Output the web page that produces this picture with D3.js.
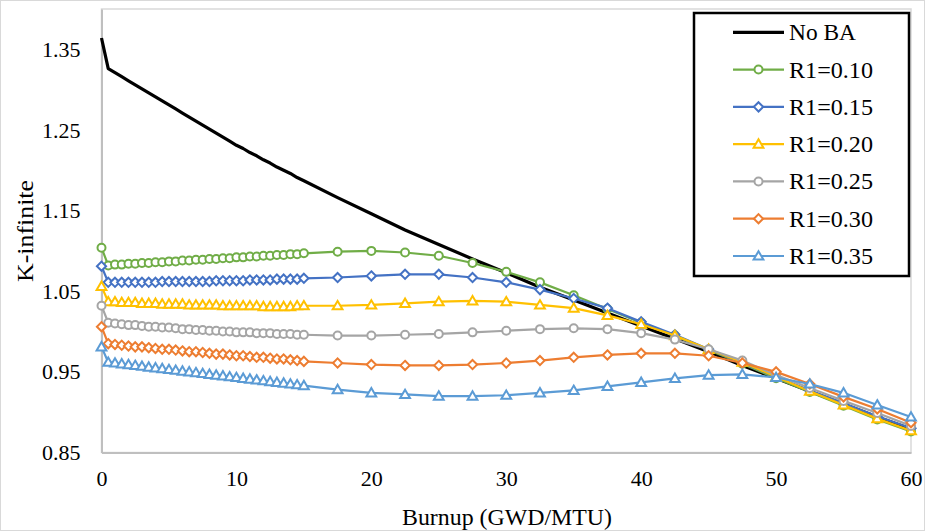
<!DOCTYPE html>
<html>
<head>
<meta charset="utf-8">
<script src="https://cdn.jsdelivr.net/npm/d3@7"></script>
<style>
  html, body { margin: 0; padding: 0; background: #fff; }
</style>
</head>
<body>
<svg id="chart" width="925" height="531"></svg>
<script>
// ---- data ----
const burnup = [0, 0.5, 1, 1.5, 2, 2.5, 3, 3.5, 4, 4.5, 5, 5.5, 6, 6.5, 7, 7.5, 8, 8.5, 9, 9.5, 10,
  10.5, 11, 11.5, 12, 12.5, 13, 13.5, 14, 14.5, 15,
  17.5, 20, 22.5, 25, 27.5, 30, 32.5, 35, 37.5, 40, 42.5, 45, 47.5, 50, 52.5, 55, 57.5, 60];

const noBA = [1.364, 1.326, 1.321, 1.316, 1.311, 1.306, 1.301, 1.296, 1.291, 1.286, 1.281, 1.276, 1.271, 1.266, 1.261, 1.256,
  1.251, 1.246, 1.241, 1.236, 1.231, 1.227, 1.222, 1.218, 1.213, 1.209, 1.204, 1.200, 1.196, 1.191, 1.187,
  1.166, 1.146, 1.126, 1.108, 1.090, 1.073, 1.055, 1.039, 1.023, 1.007, 0.991, 0.975, 0.958, 0.942, 0.926, 0.910, 0.894, 0.879];

const r010 = [1.104, 1.082, 1.083, 1.083, 1.084, 1.084, 1.085, 1.085, 1.086, 1.086, 1.087, 1.087, 1.088, 1.088, 1.089, 1.089,
  1.090, 1.090, 1.091, 1.091, 1.092, 1.092, 1.093, 1.093, 1.094, 1.094, 1.095, 1.095, 1.096, 1.096, 1.097,
  1.099, 1.100, 1.098, 1.094, 1.085, 1.074, 1.061, 1.045, 1.028, 1.011, 0.995, 0.977, 0.960, 0.942, 0.925, 0.908, 0.891, 0.876];

const r015 = [1.081, 1.061, 1.061, 1.061, 1.061, 1.061, 1.061, 1.061, 1.061, 1.062, 1.062, 1.062, 1.062, 1.062, 1.062, 1.062,
  1.062, 1.063, 1.063, 1.063, 1.063, 1.063, 1.064, 1.064, 1.064, 1.064, 1.065, 1.065, 1.065, 1.065, 1.066,
  1.067, 1.069, 1.071, 1.071, 1.067, 1.061, 1.052, 1.041, 1.029, 1.012, 0.996, 0.978, 0.961, 0.944, 0.927, 0.911, 0.895, 0.880];

const r020 = [1.056, 1.037, 1.037, 1.036, 1.036, 1.036, 1.035, 1.035, 1.035, 1.034, 1.034, 1.034, 1.034, 1.033, 1.033, 1.033,
  1.033, 1.033, 1.032, 1.032, 1.032, 1.032, 1.032, 1.032, 1.031, 1.031, 1.031, 1.031, 1.031, 1.032, 1.032,
  1.032, 1.033, 1.035, 1.037, 1.038, 1.037, 1.033, 1.029, 1.020, 1.009, 0.995, 0.978, 0.962, 0.944, 0.926, 0.909, 0.892, 0.877];

const r025 = [1.032, 1.011, 1.010, 1.009, 1.008, 1.008, 1.007, 1.006, 1.006, 1.005, 1.005, 1.004, 1.003, 1.003, 1.002, 1.002,
  1.001, 1.001, 1.000, 1.000, 0.999, 0.999, 0.999, 0.998, 0.998, 0.998, 0.997, 0.997, 0.997, 0.996, 0.996,
  0.995, 0.995, 0.996, 0.997, 0.999, 1.001, 1.003, 1.004, 1.003, 0.998, 0.990, 0.978, 0.964, 0.946, 0.930, 0.914, 0.899, 0.883];

const r030 = [1.006, 0.985, 0.984, 0.983, 0.982, 0.981, 0.981, 0.980, 0.979, 0.978, 0.978, 0.977, 0.976, 0.975, 0.975, 0.974,
  0.973, 0.972, 0.972, 0.971, 0.970, 0.970, 0.969, 0.968, 0.968, 0.967, 0.966, 0.966, 0.965, 0.964, 0.963,
  0.961, 0.959, 0.958, 0.958, 0.959, 0.961, 0.964, 0.968, 0.971, 0.973, 0.973, 0.970, 0.961, 0.950, 0.935, 0.919, 0.904, 0.887];

const r035 = [0.981, 0.962, 0.961, 0.960, 0.959, 0.958, 0.957, 0.956, 0.955, 0.954, 0.953, 0.952, 0.951, 0.950, 0.949, 0.948,
  0.947, 0.946, 0.945, 0.944, 0.943, 0.942, 0.941, 0.940, 0.939, 0.938, 0.937, 0.936, 0.935, 0.934, 0.933,
  0.928, 0.924, 0.922, 0.920, 0.920, 0.921, 0.924, 0.927, 0.932, 0.937, 0.942, 0.946, 0.947, 0.943, 0.935, 0.924, 0.909, 0.894];

const seriesNames = ["No BA", "R1=0.10", "R1=0.15", "R1=0.20", "R1=0.25", "R1=0.30", "R1=0.35"];
const seriesValues = [noBA, r010, r015, r020, r025, r030, r035];
const seriesColors = ["#000000", "#70AD47", "#4472C4", "#FFC000", "#A5A5A5", "#ED7D31", "#5B9BD5"];
const seriesMarkers = ["none", "circle", "diamond", "triangle", "circle", "diamond", "triangle"];

const xTicks = [0, 10, 20, 30, 40, 50, 60];
const yTicks = [0.85, 0.95, 1.05, 1.15, 1.25, 1.35];

// ---- layout ----
const FONT = "'Liberation Serif', Tinos, 'Times New Roman', 'DejaVu Serif', serif";
const svg = d3.select("#chart");
const W = 925, H = 531;
const plot = { left: 101.5, right: 911, top: 9, bottom: 452.5 };

const x = d3.scaleLinear().domain([0, 60]).range([plot.left, plot.right]);
const y = d3.scaleLinear().domain([0.85, 1.40]).range([plot.bottom, plot.top]);

svg.append("rect").attr("x", 0).attr("y", 0).attr("width", W).attr("height", H).attr("fill", "#fff");
svg.append("rect").attr("x", 0.5).attr("y", 0.5).attr("width", W - 1).attr("height", H - 1)
  .attr("fill", "none").attr("stroke", "#D9D9D9").attr("stroke-width", 1);

// plot area border (light)
svg.append("rect").attr("x", plot.left).attr("y", plot.top)
  .attr("width", plot.right - plot.left).attr("height", plot.bottom - plot.top)
  .attr("fill", "none").attr("stroke", "#D9D9D9").attr("stroke-width", 1.5);

// axes
const xAxis = d3.axisBottom(x).tickValues(xTicks).tickSize(0).tickPadding(18).tickFormat(d3.format("d"));
const gx = svg.append("g").attr("transform", `translate(0,${plot.bottom})`).call(xAxis);
gx.attr("font-family", null).attr("font-size", null);
gx.select(".domain").attr("stroke", "#BFBFBF").attr("stroke-width", 2);
gx.selectAll("text").style("font-family", FONT).style("font-size", "22px").attr("fill", "#000");

const yAxis = d3.axisLeft(y).tickValues(yTicks).tickSize(0).tickPadding(21).tickFormat(d3.format(".2f"));
const gy = svg.append("g").attr("transform", `translate(${plot.left},0)`).call(yAxis);
gy.attr("font-family", null).attr("font-size", null);
gy.select(".domain").attr("stroke", "#BFBFBF").attr("stroke-width", 2);
gy.selectAll("text").style("font-family", FONT).style("font-size", "22px").attr("fill", "#000");

// axis titles
svg.append("text").attr("x", 507).attr("y", 525).attr("text-anchor", "middle")
  .attr("textLength", 210).attr("lengthAdjust", "spacingAndGlyphs")
  .style("font-family", FONT).style("font-size", "23px").text("Burnup (GWD/MTU)");
svg.append("text").attr("transform", "translate(33,231) rotate(-90)").attr("text-anchor", "middle")
  .attr("textLength", 102).attr("lengthAdjust", "spacingAndGlyphs")
  .style("font-family", FONT).style("font-size", "23px").text("K-infinite");

// markers
function markerPath(type) {
  if (type === "circle") return d3.symbol().type(d3.symbolCircle).size(Math.PI * 4 * 4)();
  if (type === "diamond") return "M0,-4.6L4.6,0L0,4.6L-4.6,0Z";
  if (type === "triangle") return "M0,-4.8L4.9,3.6L-4.9,3.6Z";
  return null;
}

const line = d3.line().x(d => x(d[0])).y(d => y(d[1]));

seriesValues.forEach((vals, i) => {
  const pts = burnup.map((b, j) => [b, vals[j]]);
  const g = svg.append("g");
  g.append("path").datum(pts).attr("d", line)
    .attr("fill", "none").attr("stroke", seriesColors[i])
    .attr("stroke-width", i === 0 ? 3.2 : 2.2)
    .attr("stroke-linejoin", "round");
  if (seriesMarkers[i] !== "none") {
    g.selectAll("path.m").data(pts).enter().append("path").attr("class", "m")
      .attr("d", markerPath(seriesMarkers[i]))
      .attr("transform", d => `translate(${x(d[0])},${y(d[1])})`)
      .attr("fill", "#fff").attr("stroke", seriesColors[i]).attr("stroke-width", 2);
  }
});

// legend
const lg = svg.append("g");
lg.append("rect").attr("x", 694).attr("y", 13).attr("width", 215).attr("height", 263)
  .attr("fill", "#fff").attr("stroke", "#000").attr("stroke-width", 2.5);
const rowY = d3.scalePoint().domain(seriesNames).range([32.3, 256]);
seriesNames.forEach((name, i) => {
  const cy = rowY(name);
  lg.append("line").attr("x1", 733).attr("x2", 784).attr("y1", cy).attr("y2", cy)
    .attr("stroke", seriesColors[i]).attr("stroke-width", i === 0 ? 3.2 : 2.2);
  if (seriesMarkers[i] !== "none") {
    lg.append("path").attr("d", markerPath(seriesMarkers[i]))
      .attr("transform", `translate(758.5,${cy})`)
      .attr("fill", "#fff").attr("stroke", seriesColors[i]).attr("stroke-width", 2);
  }
  lg.append("text").attr("x", 789).attr("y", cy).attr("dy", "0.35em")
    .attr("textLength", i === 0 ? 67 : 84).attr("lengthAdjust", "spacingAndGlyphs")
    .style("font-family", FONT).style("font-size", "23px").text(name);
});
</script>
</body>
</html>
